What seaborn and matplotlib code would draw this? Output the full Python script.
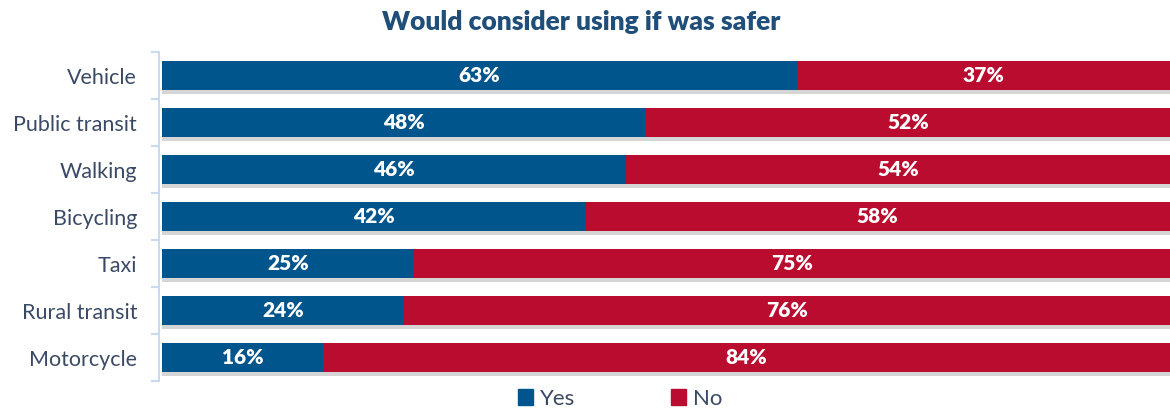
import matplotlib
matplotlib.use("Agg")
import matplotlib.pyplot as plt
import matplotlib.patheffects as pe
from matplotlib.ticker import FixedLocator
from matplotlib.patches import Patch
import numpy as np
import pandas as pd
import seaborn as sns

# data
modes = ["Vehicle", "Public transit", "Walking", "Bicycling", "Taxi", "Rural transit", "Motorcycle"]
yes_pct = [63, 48, 46, 42, 25, 24, 16]
no_pct = [37, 52, 54, 58, 75, 76, 84]

blue = "#00558C"
red = "#BA0C2F"
txt = "#3A4A66"

sns.set_theme(style="white")
plt.rcParams["font.family"] = ["Lato", "DejaVu Sans"]

df = pd.DataFrame({"mode": modes, "yes": yes_pct, "no": no_pct})
df["total"] = df["yes"] + df["no"]

fig = plt.figure(figsize=(11.7, 4.11), dpi=100)
ax = fig.add_axes([162 / 1170, 1 - 381 / 411, 1 - 162 / 1170, 329 / 411])

shadow = [pe.SimplePatchShadow(offset=(0, -3), shadow_rgbFace="#888888", alpha=0.35), pe.Normal()]

sns.barplot(data=df, y="mode", x="total", color=red, saturation=1, width=0.63, ax=ax, orient="h")
sns.barplot(data=df, y="mode", x="yes", color=blue, saturation=1, width=0.63, ax=ax, orient="h")
for p in ax.patches:
    p.set_linewidth(0)
for p in ax.patches[:len(modes)]:
    p.set_path_effects(shadow)

# labels
for i, (y, n) in enumerate(zip(yes_pct, no_pct)):
    ax.text(y / 2, i, f"{y}%", color="white", fontsize=15, fontweight="heavy", ha="center", va="center")
    ax.text(y + n / 2, i, f"{n}%", color="white", fontsize=15, fontweight="heavy", ha="center", va="center")

ax.set_xlim(0, 100)
ax.set_ylim(len(modes) - 0.5, -0.5)
ax.set_xlabel("")
ax.set_ylabel("")
ax.set_xticks([])
ax.tick_params(axis="y", which="major", left=False, length=0, labelsize=15.5, labelcolor=txt, pad=16)
ax.yaxis.set_minor_locator(FixedLocator(np.arange(-0.5, len(modes), 1)))
ax.tick_params(axis="y", which="minor", left=True, length=6, width=1.5, color="#C9D9EE")
for s in ["top", "right", "bottom"]:
    ax.spines[s].set_visible(False)
ax.spines["left"].set_color("#C9D9EE")
ax.spines["left"].set_linewidth(1.5)
ax.spines["left"].set_position(("outward", 2))

fig.suptitle("Would consider using if was safer", x=0.497, y=0.975, fontsize=19, fontweight="heavy", color="#1F4E79")

handles = [Patch(color=blue, label="Yes"), Patch(color=red, label="No")]
fig.legend(handles=handles, loc="center", bbox_to_anchor=(0.53, 0.03), ncol=2, frameon=False,
           fontsize=16, handlelength=0.7, handleheight=0.7, handletextpad=0.3, columnspacing=4.3,
           labelcolor=txt)

fig.savefig("out.png", dpi=100)
